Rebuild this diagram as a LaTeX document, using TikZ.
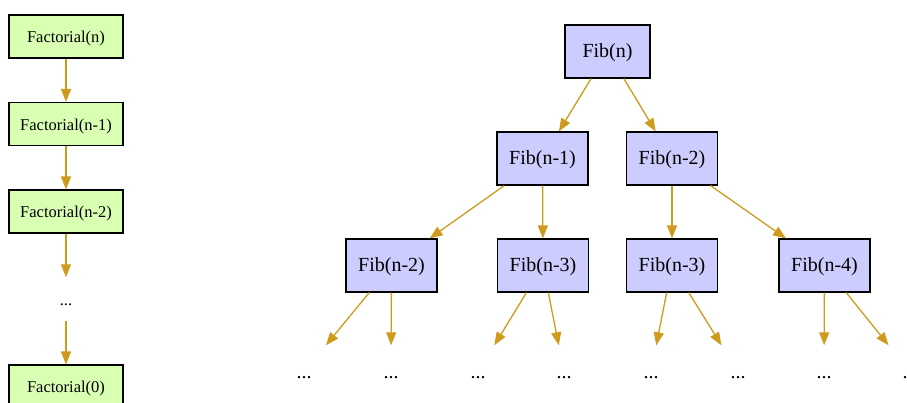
\documentclass[tikz,border=0pt]{standalone}
\usepackage{fontspec}
\setmainfont{Liberation Serif}
\usetikzlibrary{arrows.meta}
\definecolor{edgec}{HTML}{CF9B1C}
\definecolor{factfill}{HTML}{D9FFB3}
\definecolor{fibfill}{HTML}{CCCCFF}
\begin{document}
\begin{tikzpicture}[x=1pt,y=-1pt,
  factbox/.style={draw=black, line width=1.1pt, fill=factfill, minimum width=114pt, minimum height=43pt, inner sep=0pt,
    font=\fontsize{16.5}{20}\selectfont, text height=12.4pt, text depth=0pt},
  factdots/.style={minimum width=60pt, minimum height=43pt, inner sep=0pt,
    font=\fontsize{16.5}{20}\selectfont, text height=12.4pt, text depth=0pt},
  fibbox/.style={draw=black, line width=1.1pt, fill=fibfill, minimum width=91pt, minimum height=53pt, inner sep=0pt,
    font=\fontsize{20}{24}\selectfont, text height=12pt, text depth=0pt},
  fibdots/.style={minimum width=60pt, minimum height=53pt, inner sep=0pt,
    font=\fontsize{20}{24}\selectfont, text height=12pt, text depth=0pt},
  edge/.style={draw=edgec, line width=1.3pt, -{Triangle[length=13pt,width=10pt]}},
]
\useasboundingbox (0,0) rectangle (907,403);
% Factorial chain
\node[factbox] (f0) at (66,36.5) {Factorial(n)};
\node[factbox] (f1) at (66,124) {Factorial(n-1)};
\node[factbox] (f2) at (66,211.5) {Factorial(n-2)};
\node[factdots] (fd) at (66,299) {...};
\node[factbox] (f3) at (66,386.5) {Factorial(0)};
\draw[edge] (f0) -- (f1);
\draw[edge] (f1) -- (f2);
\draw[edge] (f2) -- (fd);
\draw[edge] (fd) -- (f3);
% Fibonacci tree
\node[fibbox, minimum width=85pt] (n) at (607.5,51.5) {Fib(n)};
\node[fibbox] (a1) at (542.5,158.5) {Fib(n-1)};
\node[fibbox] (a2) at (672,158.5) {Fib(n-2)};
\node[fibbox] (b1) at (391.5,265.5) {Fib(n-2)};
\node[fibbox] (b2) at (543,265.5) {Fib(n-3)};
\node[fibbox] (b3) at (672,265.5) {Fib(n-3)};
\node[fibbox] (b4) at (824.5,265.5) {Fib(n-4)};
\node[fibdots] (d1) at (304,372) {...};
\node[fibdots] (d2) at (391,372) {...};
\node[fibdots] (d3) at (478,372) {...};
\node[fibdots] (d4) at (564,372) {...};
\node[fibdots] (d5) at (651,372) {...};
\node[fibdots] (d6) at (738,372) {...};
\node[fibdots] (d7) at (824,372) {...};
\node[fibdots] (d8) at (910,372) {...};
\draw[edge] (n) -- (a1);
\draw[edge] (n) -- (a2);
\draw[edge] (a1) -- (b1);
\draw[edge] (a1) -- (b2);
\draw[edge] (a2) -- (b3);
\draw[edge] (a2) -- (b4);
\draw[edge] (b1) -- (d1);
\draw[edge] (b1) -- (d2);
\draw[edge] (b2) -- (d3);
\draw[edge] (b2) -- (d4);
\draw[edge] (b3) -- (d5);
\draw[edge] (b3) -- (d6);
\draw[edge] (b4) -- (d7);
\draw[edge] (b4) -- (d8);
\end{tikzpicture}
\end{document}
